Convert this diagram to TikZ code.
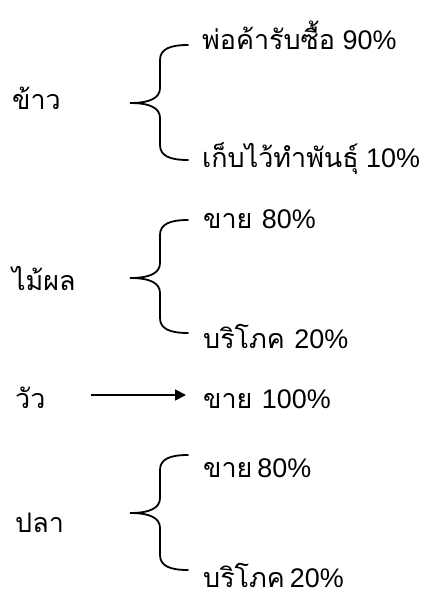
\documentclass[tikz,border=0pt]{standalone}
\usepackage{fontspec}
\setmainfont{Liberation Sans}
\newfontfamily\thaifont[Script=Thai]{Loma}
\newcommand{\thtext}[1]{{\thaifont #1}}
\usetikzlibrary{arrows.meta}
\tikzset{
  lbl/.style={anchor=base west, inner sep=0pt, font=\fontsize{27}{31}\selectfont},
  bracepath/.style={line width=1.8pt, line cap=round},
  arrowline/.style={line width=1.8pt, -{Triangle[length=11pt,width=11pt]}}
}
\newcommand{\mybrace}[3]{% tip y, top y, bottom y
  \draw[bracepath] (188,#2) .. controls (170,#2) and (160,#2+4) .. (160,#2+15)
    -- (160,#1-15) .. controls (160,#1-5) and (150,#1) .. (130,#1)
    .. controls (150,#1) and (160,#1+5) .. (160,#1+15)
    -- (160,#3-15) .. controls (160,#3-4) and (170,#3) .. (188,#3);
}
\begin{document}
\begin{tikzpicture}[x=1bp,y=-1bp]
\useasboundingbox (0,0) rectangle (430,593);
% rice
\node[lbl] (rice) at (12,110) {\thtext{ข้าว}};
\node[lbl] (r1) at (202,50) {\thtext{พ่อค้ารับซื้อ} 90\%};
\node[lbl] (r2) at (202,168) {\thtext{เก็บไว้ทำพันธุ์} 10\%};
\mybrace{103}{45}{160}
% fruit
\node[lbl] (fruit) at (12,290) {\thtext{ไม้ผล}};
\node[lbl] (f1) at (203,228) {\thtext{ขาย}\hspace{9.5pt}80\%};
\node[lbl] (f2) at (203,348) {\thtext{บริโภค}\hspace{9.5pt}20\%};
\mybrace{278}{220}{333}
% cow
\node[lbl] (cow) at (15,408) {\thtext{วัว}};
\node[lbl] (c1) at (203,408) {\thtext{ขาย}\hspace{9.5pt}100\%};
\coordinate (cs) at (91,395);
\coordinate (ce) at (186,395);
\draw[arrowline] (cs) -- (ce);
% fish
\node[lbl] (fish) at (15,532) {\thtext{ปลา}};
\node[lbl] (p1) at (203,477) {\thtext{ขาย}\hspace{5pt}80\%};
\node[lbl] (p2) at (203,587) {\thtext{บริโภค}\hspace{5pt}20\%};
\mybrace{513}{455}{570}
\end{tikzpicture}
\end{document}
